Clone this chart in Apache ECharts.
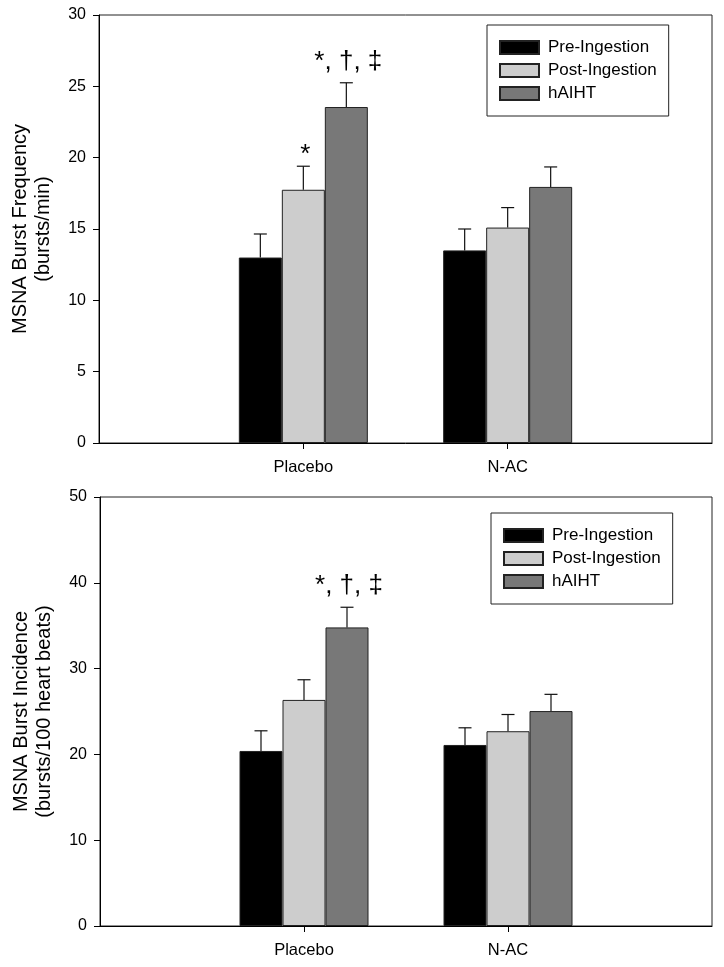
<!DOCTYPE html>
<html>
<head>
<meta charset="utf-8">
<script src="https://cdn.jsdelivr.net/npm/echarts@6/dist/echarts.min.js"></script>
<style>html,body{margin:0;padding:0;background:#fff}#c{width:724px;height:967px}</style>
</head>
<body>
<div id="c"></div>
<script>
// ---- data ----
var categories = ['Placebo', 'N-AC'];
var seriesNames = ['Pre-Ingestion', 'Post-Ingestion', 'hAIHT'];

// Top panel: MSNA Burst Frequency (bursts/min)
var freqPre = [13.0, 13.5];
var freqPost = [17.75, 15.1];
var freqHAIHT = [23.55, 17.95];
var freqPreErr = [1.65, 1.5];
var freqPostErr = [1.65, 1.4];
var freqHAIHTErr = [1.7, 1.4];
var freqPreAnn = ['', ''];
var freqPostAnn = ['*', ''];
var freqHAIHTAnn = ['*, \u2020, \u2021', ''];
var freqTicks = [0, 5, 10, 15, 20, 25, 30];

// Bottom panel: MSNA Burst Incidence (bursts/100 heart beats)
var incPre = [20.4, 21.1];
var incPost = [26.35, 22.7];
var incHAIHT = [34.8, 25.05];
var incPreErr = [2.35, 2.0];
var incPostErr = [2.35, 1.95];
var incHAIHTErr = [2.35, 1.95];
var incPreAnn = ['', ''];
var incPostAnn = ['', ''];
var incHAIHTAnn = ['*, \u2020, \u2021', ''];
var incTicks = [0, 10, 20, 30, 40, 50];

// ---- styling ----
var FONT = 'Liberation Sans, Arial, sans-serif';
var colors = ['#000000', '#cdcdcd', '#787878'];
var BAR_W = 43;
var axisCats = [''].concat(categories, ['']);

function pad(arr) { return [null].concat(arr, [null]); }

function errData(vals, errs) {
  return vals.map(function (v, i) { return [i + 1, v, errs[i]]; });
}

function errRender(k, anns) {
  return function (params, api) {
    var idx = api.value(0), m = api.value(1), e = api.value(2);
    var ann = anns[params.dataIndex] || '';
    var p0 = api.coord([idx, m]);
    var p1 = api.coord([idx, m + e]);
    var x = p0[0] + (k - 1) * BAR_W;
    var children = [
      { type: 'line', shape: { x1: x, y1: p0[1], x2: x, y2: p1[1] }, style: { stroke: '#111', lineWidth: 1.2 } },
      { type: 'line', shape: { x1: x - 6.5, y1: p1[1], x2: x + 6.5, y2: p1[1] }, style: { stroke: '#111', lineWidth: 1.2 } }
    ];
    if (ann) {
      var gap = ann.length > 1 ? 21 : 11;
      children.push({ type: 'text', style: { text: ann, x: x + 2, y: p1[1] - gap, textAlign: 'center', textVerticalAlign: 'middle', font: '26px ' + FONT, fill: '#000' } });
    }
    return { type: 'group', children: children };
  };
}

function makeAxes(gi, ticks, title) {
  var x = {
    type: 'category', gridIndex: gi, data: axisCats, boundaryGap: false,
    axisLine: { lineStyle: { color: '#000', width: 1 } },
    axisTick: { show: true, inside: false, length: 6, lineStyle: { color: '#000' },
      interval: function (i) { return i === 1 || i === 2; } },
    axisLabel: { color: '#000', fontSize: 16.5, fontFamily: FONT, margin: 16,
      interval: function (i) { return i === 1 || i === 2; } },
    splitLine: { show: false }
  };
  var y = {
    type: 'value', gridIndex: gi, min: ticks[0], max: ticks[ticks.length - 1],
    interval: ticks[1] - ticks[0],
    name: title, nameLocation: 'middle', nameGap: 44, nameRotate: 90,
    nameTextStyle: { color: '#000', fontSize: 20, fontFamily: FONT, lineHeight: 23 },
    axisLine: { show: true, lineStyle: { color: '#000', width: 1 } },
    axisTick: { show: true, inside: false, length: 6, lineStyle: { color: '#000' } },
    axisLabel: { color: '#000', fontSize: 16, fontFamily: FONT, margin: 13 },
    splitLine: { show: false }
  };
  return [x, y];
}

function makeSeries(gi, vals, errs, anns) {
  var out = [];
  for (var k = 0; k < 3; k++) {
    out.push({
      type: 'bar', name: seriesNames[k], xAxisIndex: gi, yAxisIndex: gi,
      data: pad(vals[k]), barWidth: BAR_W, barGap: '0%',
      itemStyle: { color: colors[k], borderColor: '#222', borderWidth: 1 },
      emphasis: { disabled: true }, animation: false
    });
  }
  for (var k2 = 0; k2 < 3; k2++) {
    out.push({
      type: 'custom', xAxisIndex: gi, yAxisIndex: gi, z: 5,
      renderItem: errRender(k2, anns[k2]), data: errData(vals[k2], errs[k2]),
      encode: { x: 0, y: [1] }, animation: false, silent: true, tooltip: { show: false }
    });
  }
  return out;
}

var ax0 = makeAxes(0, freqTicks, 'MSNA Burst Frequency\n(bursts/min)');
var ax1 = makeAxes(1, incTicks, 'MSNA Burst Incidence\n(bursts/100 heart beats)');

function legendAt(left, top) {
  return {
    data: seriesNames, left: left, top: top, orient: 'vertical',
    itemWidth: 39, itemHeight: 13, itemGap: 6,
    borderColor: '#222', borderWidth: 1, padding: [14, 12, 14, 12],
    icon: 'rect', selectedMode: false,
    textStyle: { color: '#000', fontSize: 17, fontFamily: FONT, lineHeight: 17, padding: [0, 0, 0, 4] }
  };
}

var chart = echarts.init(document.getElementById('c'), null, { renderer: 'canvas' });
chart.setOption({
  animation: false,
  backgroundColor: '#fff',
  grid: [
    { left: 99, right: 12, top: 15, height: 428, show: true, borderColor: '#222', borderWidth: 1, backgroundColor: 'transparent' },
    { left: 100, right: 12, top: 497, height: 429, show: true, borderColor: '#222', borderWidth: 1, backgroundColor: 'transparent' }
  ],
  legend: [legendAt(487, 25), legendAt(491, 513)],
  xAxis: [ax0[0], ax1[0]],
  yAxis: [ax0[1], ax1[1]],
  series: makeSeries(0, [freqPre, freqPost, freqHAIHT], [freqPreErr, freqPostErr, freqHAIHTErr], [freqPreAnn, freqPostAnn, freqHAIHTAnn])
    .concat(makeSeries(1, [incPre, incPost, incHAIHT], [incPreErr, incPostErr, incHAIHTErr], [incPreAnn, incPostAnn, incHAIHTAnn]))
});
</script>
</body>
</html>
